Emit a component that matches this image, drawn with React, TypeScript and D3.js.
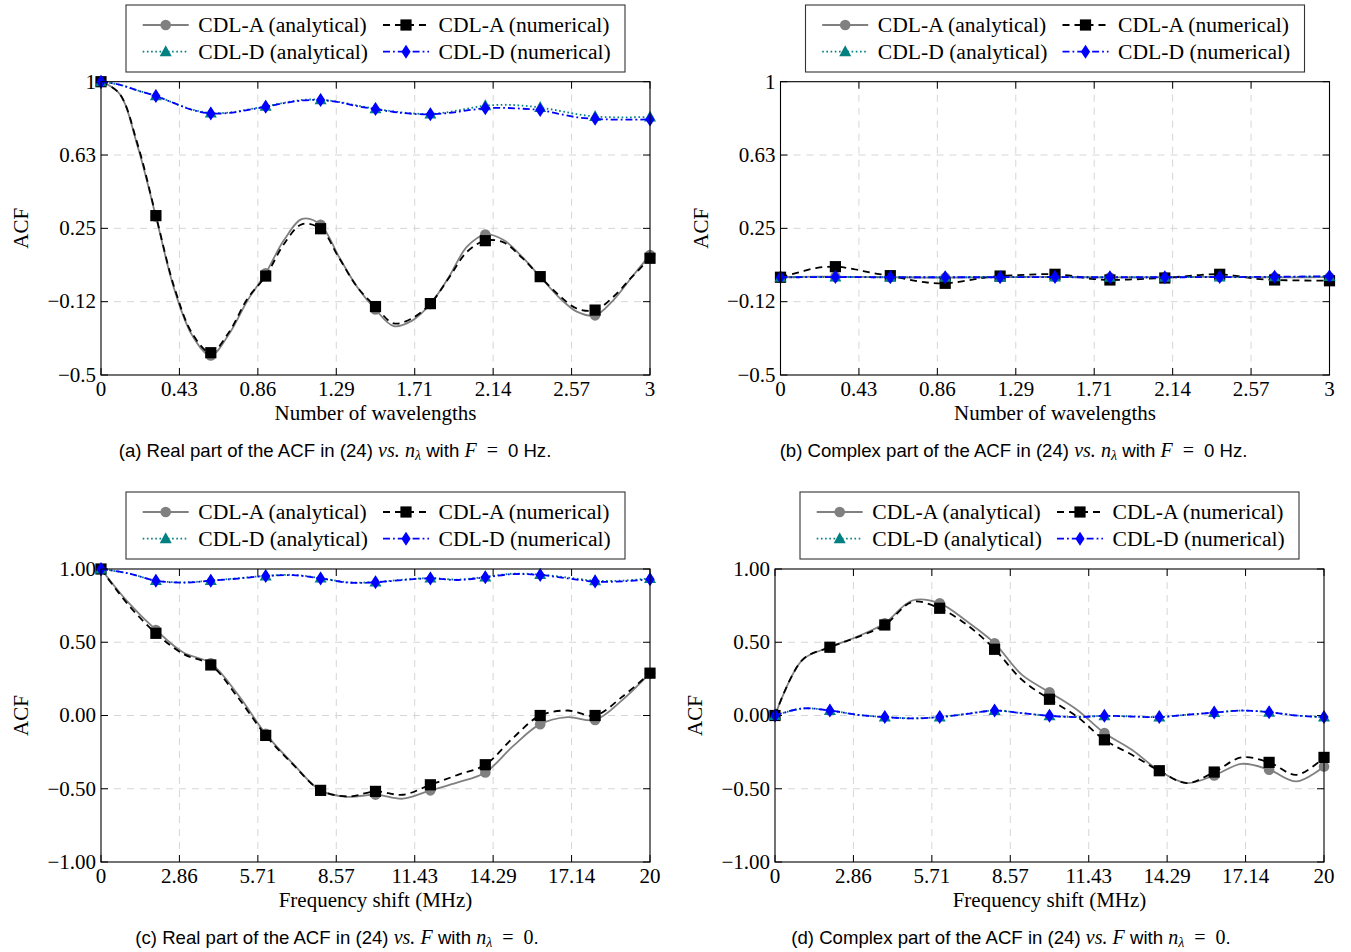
import React from "react";
import * as d3 from "d3";

// ---------- data ----------
// Sample grids
const wavelengths = [
  0, 0.1, 0.2, 0.3, 0.4, 0.5, 0.6, 0.7, 0.8, 0.9, 1.0, 1.1, 1.2, 1.3, 1.4, 1.5,
  1.6, 1.7, 1.8, 1.9, 2.0, 2.1, 2.2, 2.3, 2.4, 2.5, 2.6, 2.7, 2.8, 2.9, 3.0,
];
const freqShiftsMHz = [
  0, 1, 2, 3, 4, 5, 6, 7, 8, 9, 10, 11, 12, 13, 14, 15, 16, 17, 18, 19, 20,
];

// (a) Real part vs. number of wavelengths
const realWlCdlAAnalytical = [
  1.0, 0.94, 0.67, 0.31, -0.06, -0.3, -0.4, -0.29, -0.12, 0.02, 0.19, 0.298,
  0.268, 0.105, -0.05, -0.165, -0.25, -0.222, -0.137, 0.0, 0.156, 0.218, 0.19,
  0.105, 0.003, -0.1, -0.176, -0.195, -0.117, 0.0, 0.114,
];
const realWlCdlANumerical = [
  1.0, 0.94, 0.68, 0.315, -0.05, -0.29, -0.386, -0.28, -0.11, 0.006, 0.17,
  0.272, 0.248, 0.1, -0.05, -0.15, -0.236, -0.21, -0.135, -0.005, 0.13, 0.187,
  0.178, 0.1, 0.003, -0.09, -0.16, -0.168, -0.1, 0.0, 0.097,
];
const realWlCdlDAnalytical = [
  1.0, 0.985, 0.955, 0.928, 0.89, 0.857, 0.84, 0.842, 0.857, 0.874, 0.892,
  0.907, 0.908, 0.897, 0.878, 0.862, 0.848, 0.838, 0.835, 0.845, 0.862, 0.877,
  0.882, 0.878, 0.868, 0.852, 0.834, 0.822, 0.818, 0.818, 0.82,
];
const realWlCdlDNumerical = [
  1.0, 0.985, 0.955, 0.927, 0.89, 0.855, 0.838, 0.84, 0.855, 0.872, 0.89,
  0.904, 0.906, 0.895, 0.875, 0.86, 0.845, 0.836, 0.833, 0.84, 0.853, 0.864,
  0.866, 0.862, 0.855, 0.836, 0.818, 0.81, 0.806, 0.806, 0.807,
];

// (b) Complex part vs. number of wavelengths
const imagWlCdlAAnalytical = [
  0, 0.002, 0.003, 0.003, 0.002, 0.001, 0, -0.001, -0.002, -0.002, -0.001, 0,
  0.001, 0.001, 0.002, 0.002, 0.001, 0, -0.001, -0.001, 0, 0, 0.001, 0.002,
  0.002, 0.001, 0, 0, -0.001, 0, 0,
];
const imagWlCdlANumerical = [
  0, 0.025, 0.048, 0.054, 0.042, 0.022, 0.008, -0.012, -0.027, -0.031, -0.02,
  -0.004, 0.006, 0.011, 0.015, 0.015, 0.006, -0.008, -0.014, -0.012, -0.008,
  -0.004, 0.004, 0.012, 0.015, 0.006, -0.008, -0.014, -0.016, -0.017, -0.018,
];
const imagWlCdlDAnalytical = [
  0, 0, 0.001, 0.001, 0.001, 0, 0, 0, 0, 0, 0, 0, 0, 0.001, 0.001, 0.001, 0, 0,
  0, 0, 0, 0, 0, 0.001, 0.001, 0.001, 0.001, 0.002, 0.002, 0.003, 0.004,
];
const imagWlCdlDNumerical = [
  0, 0, 0.001, 0.001, 0.001, 0, 0, 0, 0, 0, 0, 0, 0, 0.001, 0.001, 0.001, 0, 0,
  0, 0, 0, 0, 0, 0.001, 0.001, 0.001, 0.002, 0.002, 0.003, 0.004, 0.005,
];

// (c) Real part vs. frequency shift
const realFqCdlAAnalytical = [
  1.0, 0.77, 0.584, 0.43, 0.357, 0.14, -0.125, -0.33, -0.511, -0.555, -0.54,
  -0.568, -0.511, -0.457, -0.389, -0.211, -0.059, -0.011, -0.03, 0.107, 0.289,
];
const realFqCdlANumerical = [
  1.0, 0.755, 0.561, 0.42, 0.345, 0.12, -0.136, -0.335, -0.511, -0.553,
  -0.518, -0.541, -0.473, -0.405, -0.336, -0.155, 0.0, 0.034, 0.0, 0.13, 0.289,
];
const realFqCdlDAnalytical = [
  1.0, 0.97, 0.921, 0.909, 0.921, 0.937, 0.953, 0.96, 0.938, 0.909, 0.911,
  0.927, 0.938, 0.928, 0.946, 0.968, 0.962, 0.942, 0.92, 0.921, 0.936,
];
const realFqCdlDNumerical = [
  1.0, 0.97, 0.92, 0.907, 0.92, 0.935, 0.952, 0.958, 0.936, 0.907, 0.909,
  0.925, 0.936, 0.925, 0.943, 0.965, 0.959, 0.936, 0.914, 0.916, 0.93,
];

// (d) Complex part vs. frequency shift
const imagFqCdlAAnalytical = [
  0.0, 0.38, 0.466, 0.539, 0.63, 0.785, 0.766, 0.641, 0.493, 0.277, 0.159,
  0.039, -0.12, -0.234, -0.377, -0.461, -0.409, -0.33, -0.37, -0.45, -0.348,
];
const imagFqCdlANumerical = [
  0.0, 0.38, 0.466, 0.535, 0.618, 0.775, 0.732, 0.618, 0.452, 0.243, 0.111,
  -0.007, -0.166, -0.268, -0.377, -0.461, -0.386, -0.286, -0.32, -0.405,
  -0.286,
];
const imagFqCdlDAnalytical = [
  0.0, 0.048, 0.034, 0.005, -0.01, -0.019, -0.01, 0.012, 0.034, 0.016, -0.002,
  -0.01, -0.002, -0.006, -0.01, 0.005, 0.02, 0.033, 0.023, 0.0, -0.01,
];
const imagFqCdlDNumerical = [
  0.0, 0.048, 0.034, 0.005, -0.011, -0.02, -0.011, 0.011, 0.034, 0.016,
  -0.002, -0.011, -0.002, -0.007, -0.011, 0.005, 0.02, 0.034, 0.023, 0.0,
  -0.011,
];

// Axis ticks
const wavelengthTickValues = [0, 0.4286, 0.8571, 1.2857, 1.7143, 2.1429, 2.5714, 3];
const wavelengthTickLabels = ["0", "0.43", "0.86", "1.29", "1.71", "2.14", "2.57", "3"];
const freqTickValues = [0, 2.857, 5.714, 8.571, 11.429, 14.286, 17.143, 20];
const freqTickLabels = ["0", "2.86", "5.71", "8.57", "11.43", "14.29", "17.14", "20"];
const acfTickValuesTop = [-0.5, -0.125, 0.25, 0.625, 1];
const acfTickLabelsTop = ["\u22120.5", "\u22120.12", "0.25", "0.63", "1"];
const acfTickValuesBottom = [-1, -0.5, 0, 0.5, 1];
const acfTickLabelsBottom = ["\u22121.00", "\u22120.50", "0.00", "0.50", "1.00"];

const legendLabels = [
  "CDL-A (analytical)",
  "CDL-A (numerical)",
  "CDL-D (analytical)",
  "CDL-D (numerical)",
];

// ---------- styles ----------
const SERIF = "'Liberation Serif', 'Times New Roman', serif";
const SANS = "'Liberation Sans', Arial, sans-serif";

type MarkerKind = "circle" | "square" | "triangle" | "diamond";
interface SeriesStyle {
  color: string;
  dash: string | null;
  marker: MarkerKind;
  width: number;
}
const seriesStyles: SeriesStyle[] = [
  { color: "#808080", dash: null, marker: "circle", width: 1.8 },
  { color: "#000000", dash: "7,5", marker: "square", width: 1.8 },
  { color: "#008080", dash: "1.6,2.6", marker: "triangle", width: 1.8 },
  { color: "#0000ff", dash: "7,3,1.8,3", marker: "diamond", width: 1.8 },
];

function Marker({ kind, x, y, color }: { kind: MarkerKind; x: number; y: number; color: string }) {
  switch (kind) {
    case "circle":
      return <circle cx={x} cy={y} r={5.3} fill={color} />;
    case "square":
      return <rect x={x - 5.6} y={y - 5.6} width={11.2} height={11.2} fill={color} />;
    case "triangle":
      return <path d={`M${x},${y - 6.5}L${x + 6},${y + 4.5}L${x - 6},${y + 4.5}Z`} fill={color} />;
    case "diamond":
      return <path d={`M${x},${y - 7}L${x + 4.6},${y}L${x},${y + 7}L${x - 4.6},${y}Z`} fill={color} />;
  }
}

interface PanelProps {
  left: number;
  right: number;
  top: number;
  bottom: number;
  xs: number[];
  series: number[][];
  xDomain: [number, number];
  yDomain: [number, number];
  xTickValues: number[];
  xTickLabels: string[];
  yTickValues: number[];
  yTickLabels: string[];
  xLabel: string;
  markEvery: number;
  legendTop: number;
}

function Panel(p: PanelProps) {
  const x = d3.scaleLinear().domain(p.xDomain).range([p.left, p.right]);
  const y = d3.scaleLinear().domain(p.yDomain).range([p.bottom, p.top]);
  const tickLen = 7;
  const gridColor = "#d6d6d6";

  const line = d3
    .line<number>()
    .x((_, i) => x(p.xs[i]))
    .y((v) => y(v))
    .curve(d3.curveCatmullRom.alpha(0.5));

  const cx = (p.left + p.right) / 2;
  const cy = (p.top + p.bottom) / 2;

  // legend geometry
  const lgW = 499;
  const lgH = 67;
  const lgX = cx - lgW / 2;
  const lgY = p.legendTop;
  const rows = [lgY + 20, lgY + 46.7];
  const cols = [lgX + 16.7, lgX + 257];

  return (
    <g>
      {/* grid */}
      {p.xTickValues.slice(1, -1).map((t, i) => (
        <line key={"gx" + i} x1={x(t)} x2={x(t)} y1={p.top} y2={p.bottom}
          stroke={gridColor} strokeWidth={1} strokeDasharray="7,6" />
      ))}
      {p.yTickValues.slice(1, -1).map((t, i) => (
        <line key={"gy" + i} x1={p.left} x2={p.right} y1={y(t)} y2={y(t)}
          stroke={gridColor} strokeWidth={1} strokeDasharray="7,6" />
      ))}

      {/* ticks on all four sides, pointing inward */}
      {p.xTickValues.map((t, i) => (
        <g key={"tx" + i}>
          <line x1={x(t)} x2={x(t)} y1={p.bottom} y2={p.bottom - tickLen} stroke="#000" strokeWidth={1} />
          <line x1={x(t)} x2={x(t)} y1={p.top} y2={p.top + tickLen} stroke="#000" strokeWidth={1} />
          <text x={x(t)} y={p.bottom + 21} fontFamily={SERIF} fontSize={21} textAnchor="middle">
            {p.xTickLabels[i]}
          </text>
        </g>
      ))}
      {p.yTickValues.map((t, i) => (
        <g key={"ty" + i}>
          <line x1={p.left} x2={p.left + tickLen} y1={y(t)} y2={y(t)} stroke="#000" strokeWidth={1} />
          <line x1={p.right} x2={p.right - tickLen} y1={y(t)} y2={y(t)} stroke="#000" strokeWidth={1} />
          <text x={p.left - 5} y={y(t) + 6.8} fontFamily={SERIF} fontSize={21} textAnchor="end">
            {p.yTickLabels[i]}
          </text>
        </g>
      ))}

      {/* series */}
      {p.series.map((vals, si) => {
        const st = seriesStyles[si];
        return (
          <g key={"s" + si}>
            <path d={line(vals) || ""} fill="none" stroke={st.color} strokeWidth={st.width}
              strokeDasharray={st.dash || undefined} />
            {vals.map((v, i) =>
              i % p.markEvery === 0 ? (
                <Marker key={i} kind={st.marker} x={x(p.xs[i])} y={y(v)} color={st.color} />
              ) : null
            )}
          </g>
        );
      })}

      {/* frame */}
      <rect x={p.left} y={p.top} width={p.right - p.left} height={p.bottom - p.top}
        fill="none" stroke="#000" strokeWidth={1.1} />

      {/* axis labels */}
      <text x={cx} y={p.bottom + 45} fontFamily={SERIF} fontSize={21} textAnchor="middle">
        {p.xLabel}
      </text>
      <text transform={`translate(${p.left - 73},${cy}) rotate(-90)`} fontFamily={SERIF}
        fontSize={21} textAnchor="middle">
        ACF
      </text>

      {/* legend */}
      <rect x={lgX} y={lgY} width={lgW} height={lgH} fill="#fff" stroke="#333" strokeWidth={1.1} />
      {legendLabels.map((lab, i) => {
        const st = seriesStyles[i];
        const rx = cols[i % 2];
        const ry = rows[Math.floor(i / 2)];
        return (
          <g key={"lg" + i}>
            <line x1={rx} x2={rx + 46} y1={ry} y2={ry} stroke={st.color} strokeWidth={st.width}
              strokeDasharray={st.dash || undefined} />
            <Marker kind={st.marker} x={rx + 23} y={ry} color={st.color} />
            <text x={rx + 55.6} y={ry + 6.8} fontFamily={SERIF} fontSize={21.6}>
              {lab}
            </text>
          </g>
        );
      })}
    </g>
  );
}

function Caption({ x, y, letter, part, byWavelength }: {
  x: number; y: number; letter: string; part: string; byWavelength: boolean;
}) {
  const mathProps = { fontFamily: SERIF, fontStyle: "italic" as const, fontSize: 20 };
  const nLambda = [
    <tspan key="n" {...mathProps}>n</tspan>,
    <tspan key="l" {...mathProps} fontSize={14} dy={3}>λ</tspan>,
  ];
  // thin spaces around the relation sign, as in typeset math
  const eq = "\u2002=\u2002";
  return (
    <text x={x} y={y} fontFamily={SANS} fontSize={18.6} textAnchor="middle">
      <tspan>{`(${letter}) ${part} part of the ACF in (24) `}</tspan>
      <tspan {...mathProps}>vs.</tspan>
      <tspan> </tspan>
      {byWavelength ? (
        <>
          {nLambda}
          <tspan dy={-3}> with </tspan>
          <tspan {...mathProps}>F</tspan>
          <tspan fontFamily={SERIF} fontSize={20}>{eq}</tspan>
          <tspan>0 Hz.</tspan>
        </>
      ) : (
        <>
          <tspan {...mathProps}>F</tspan>
          <tspan> with </tspan>
          {nLambda}
          <tspan dy={-3} fontFamily={SERIF} fontSize={20}>{eq + "0"}</tspan>
          <tspan>.</tspan>
        </>
      )}
    </text>
  );
}

export default function App() {
  const topRow = { top: 81.7, bottom: 375, legendTop: 5 };
  const botRow = { top: 569, bottom: 862, legendTop: 492 };
  return (
    <svg width={1351} height={952} viewBox="0 0 1351 952"
      style={{ position: "absolute", left: 0, top: 0, background: "#fff" }}>
      <rect x={0} y={0} width={1351} height={952} fill="#fff" />
      <Panel left={101} right={650} {...topRow} xs={wavelengths}
        series={[realWlCdlAAnalytical, realWlCdlANumerical, realWlCdlDAnalytical, realWlCdlDNumerical]}
        xDomain={[0, 3]} yDomain={[-0.5, 1]}
        xTickValues={wavelengthTickValues} xTickLabels={wavelengthTickLabels}
        yTickValues={acfTickValuesTop} yTickLabels={acfTickLabelsTop}
        xLabel="Number of wavelengths" markEvery={3} />
      <Panel left={780.5} right={1329.5} {...topRow} xs={wavelengths}
        series={[imagWlCdlAAnalytical, imagWlCdlANumerical, imagWlCdlDAnalytical, imagWlCdlDNumerical]}
        xDomain={[0, 3]} yDomain={[-0.5, 1]}
        xTickValues={wavelengthTickValues} xTickLabels={wavelengthTickLabels}
        yTickValues={acfTickValuesTop} yTickLabels={acfTickLabelsTop}
        xLabel="Number of wavelengths" markEvery={3} />
      <Panel left={101} right={650} {...botRow} xs={freqShiftsMHz}
        series={[realFqCdlAAnalytical, realFqCdlANumerical, realFqCdlDAnalytical, realFqCdlDNumerical]}
        xDomain={[0, 20]} yDomain={[-1, 1]}
        xTickValues={freqTickValues} xTickLabels={freqTickLabels}
        yTickValues={acfTickValuesBottom} yTickLabels={acfTickLabelsBottom}
        xLabel="Frequency shift (MHz)" markEvery={2} />
      <Panel left={775} right={1324} {...botRow} xs={freqShiftsMHz}
        series={[imagFqCdlAAnalytical, imagFqCdlANumerical, imagFqCdlDAnalytical, imagFqCdlDNumerical]}
        xDomain={[0, 20]} yDomain={[-1, 1]}
        xTickValues={freqTickValues} xTickLabels={freqTickLabels}
        yTickValues={acfTickValuesBottom} yTickLabels={acfTickLabelsBottom}
        xLabel="Frequency shift (MHz)" markEvery={2} />

      <Caption x={335} y={457} letter="a" part="Real" byWavelength={true} />
      <Caption x={1013.5} y={457} letter="b" part="Complex" byWavelength={true} />
      <Caption x={337} y={944} letter="c" part="Real" byWavelength={false} />
      <Caption x={1011} y={944} letter="d" part="Complex" byWavelength={false} />
    </svg>
  );
}
